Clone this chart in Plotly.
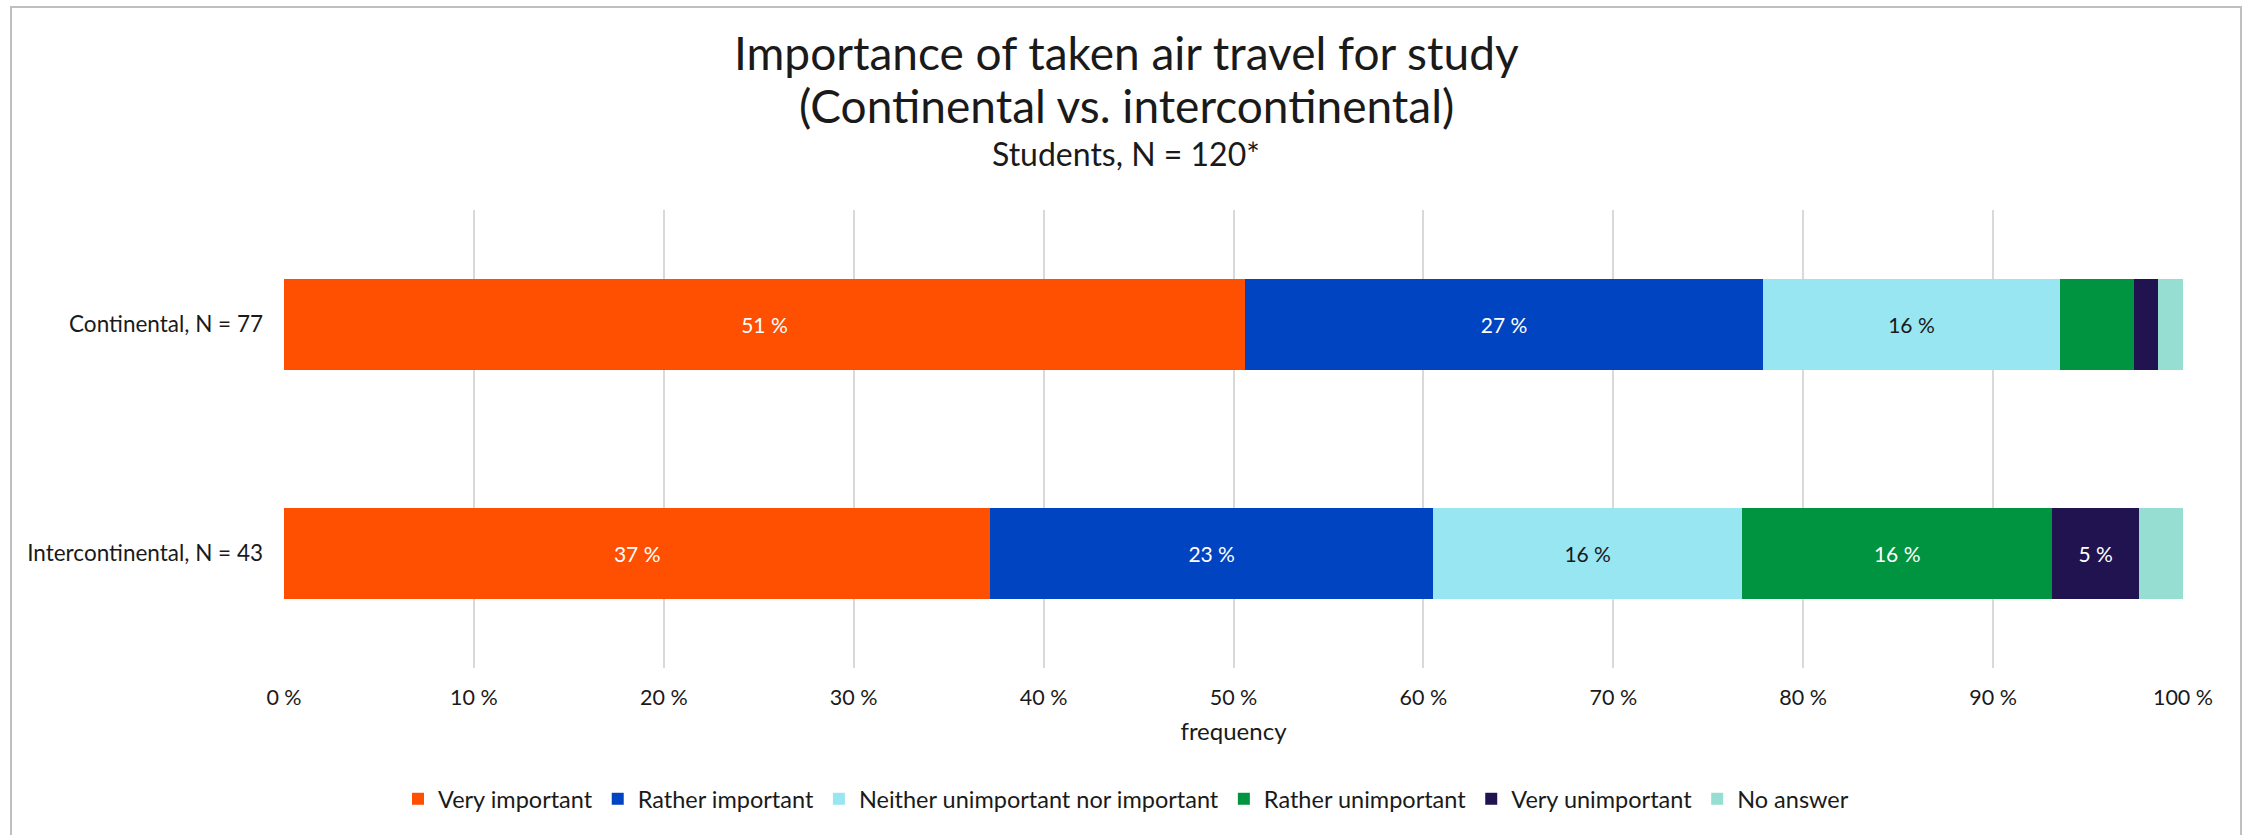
import plotly.graph_objects as go

# Survey groups (top to bottom)
groups = ["Continental, N = 77", "Intercontinental, N = 43"]

# Answer categories and their colours
answers = [
    "Very important",
    "Rather important",
    "Neither unimportant nor important",
    "Rather unimportant",
    "Very unimportant",
    "No answer",
]
colors = ["#FF4F00", "#0044C1", "#98E6F2", "#009440", "#21134F", "#96DDD2"]
label_colors = ["white", "white", "#1a1a1a", "white", "white", "#1a1a1a"]

# Share of respondents (%) per answer, one list per group
continental = [50.6, 27.3, 15.6, 3.9, 1.3, 1.3]
intercontinental = [37.2, 23.3, 16.3, 16.3, 4.6, 2.3]

x_ticks = [0, 10, 20, 30, 40, 50, 60, 70, 80, 90, 100]

FONT = "Lato"
W, H = 2252, 835
L, R, T, B = 284, 69, 210, 167
plot_w = W - L - R
plot_h = H - T - B


def px_x(x):
    return (x - L) / plot_w


def px_y(y):
    return (H - B - y) / plot_h


fig = go.Figure()
for i, name in enumerate(answers):
    vals = [continental[i], intercontinental[i]]
    fig.add_trace(
        go.Bar(
            name=name,
            x=vals,
            y=groups,
            orientation="h",
            marker=dict(color=colors[i], line=dict(width=0)),
            text=[f"{v:.0f} %" if v >= 4.5 else "" for v in vals],
            textposition="inside",
            insidetextanchor="middle",
            textangle=0,
            constraintext="none",
            textfont=dict(family=FONT, size=21, color=label_colors[i]),
            hoverinfo="skip",
        )
    )

fig.update_layout(
    barmode="stack",
    bargap=0.6,
    width=W,
    height=H,
    margin=dict(l=L, r=R, t=T, b=B),
    paper_bgcolor="white",
    plot_bgcolor="white",
    font=dict(family=FONT, size=21, color="#1a1a1a"),
    showlegend=True,
    legend=dict(
        orientation="h",
        x=px_x(W / 2),
        xanchor="center",
        y=px_y(799),
        yanchor="middle",
        font=dict(family=FONT, size=23.5, color="#1a1a1a"),
        traceorder="normal",
        itemclick=False,
    ),
    xaxis=dict(
        range=[0, 100],
        tickvals=x_ticks,
        ticktext=[f"{t} %" for t in x_ticks],
        showgrid=True,
        gridcolor="#D9D9D9",
        gridwidth=2,
        zeroline=False,
        showline=False,
        ticks="",
        ticklabelstandoff=14,
        tickfont=dict(family=FONT, size=21.5, color="#1a1a1a"),
        title=dict(text="frequency", font=dict(family=FONT, size=24, color="#1a1a1a"), standoff=14),
    ),
    yaxis=dict(
        categoryorder="array",
        categoryarray=groups,
        autorange="reversed",
        showgrid=False,
        zeroline=False,
        showline=False,
        ticks="",
        ticklabelstandoff=20,
        tickfont=dict(family=FONT, size=22.5, color="#1a1a1a"),
    ),
    annotations=[
        dict(text="Importance of taken air travel for study", x=px_x(W / 2), y=px_y(53),
             xref="paper", yref="paper", xanchor="center", yanchor="middle", showarrow=False,
             font=dict(family=FONT, size=46, color="#1a1a1a")),
        dict(text="(Continental vs. intercontinental)", x=px_x(W / 2), y=px_y(106),
             xref="paper", yref="paper", xanchor="center", yanchor="middle", showarrow=False,
             font=dict(family=FONT, size=46, color="#1a1a1a")),
        dict(text="Students, N = 120*", x=px_x(W / 2), y=px_y(153),
             xref="paper", yref="paper", xanchor="center", yanchor="middle", showarrow=False,
             font=dict(family=FONT, size=32, color="#1a1a1a")),
    ],
    shapes=[
        dict(type="rect", xref="paper", yref="paper",
             x0=px_x(11), x1=px_x(2241), y0=px_y(845), y1=px_y(7),
             line=dict(color="#BFBFBF", width=2), fillcolor="rgba(0,0,0,0)", layer="above"),
    ],
)

fig.write_html("out.html")
